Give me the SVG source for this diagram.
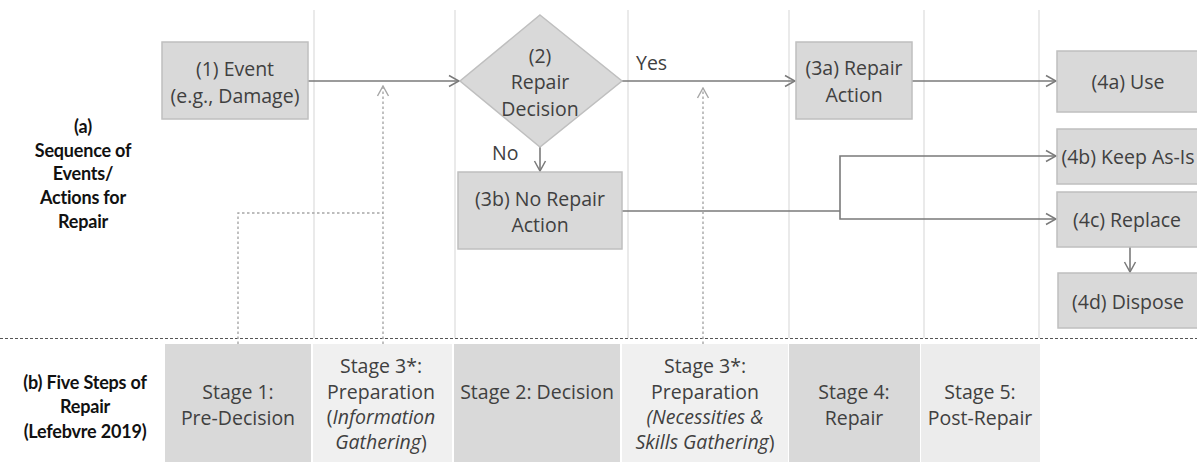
<svg xmlns="http://www.w3.org/2000/svg" width="1197" height="462" viewBox="0 0 1197 462">
<defs>
<style>
.grid{stroke:#e3e3e3;stroke-width:1.5;fill:none}
.box{fill:#d9d9d9;stroke:#bfbfbf;stroke-width:1.5}
.dark{fill:#d9d9d9}
.light{fill:#f0f0f0}
.t{font-family:"Open Sans","Liberation Sans",sans-serif;font-size:19.5px;fill:#404040;text-anchor:middle}
.tl{font-family:"Open Sans","Liberation Sans",sans-serif;font-size:19.5px;fill:#404040}
.lab{font-family:Lato,"Liberation Sans",sans-serif;font-weight:700;font-size:18px;fill:#111;text-anchor:middle;letter-spacing:-0.2px}
.conn{stroke:#7a7a7a;stroke-width:1.6;fill:none}
.dot{stroke:#a6a6a6;stroke-width:1.4;fill:none;stroke-dasharray:2.5 2.5}
.it{font-style:italic}
</style>
<marker id="arr" viewBox="-11 -7 12 14" refX="0" refY="0" markerWidth="12" markerHeight="14" markerUnits="userSpaceOnUse" orient="auto">
<path d="M-10,-5.5 L0,0 L-10,5.5" fill="none" stroke="#7a7a7a" stroke-width="1.5"/>
</marker>
<marker id="arrd" viewBox="-11 -7 12 14" refX="0" refY="0" markerWidth="12" markerHeight="14" markerUnits="userSpaceOnUse" orient="auto">
<path d="M-10,-5.5 L0,0 L-10,5.5" fill="none" stroke="#a6a6a6" stroke-width="1.4"/>
</marker>
</defs>
<rect width="1197" height="462" fill="#fff"/>

<g id="grid">
<line class="grid" x1="314" y1="10" x2="314" y2="338"/>
<line class="grid" x1="455" y1="10" x2="455" y2="338"/>
<line class="grid" x1="628" y1="10" x2="628" y2="338"/>
<line class="grid" x1="789" y1="10" x2="789" y2="338"/>
<line class="grid" x1="924" y1="10" x2="924" y2="338"/>
<line class="grid" x1="1039" y1="10" x2="1039" y2="338"/>
</g>

<g id="stages">
<rect class="dark" x="165" y="344" width="146" height="118"/>
<rect class="light" x="313" y="344" width="139" height="118"/>
<rect class="dark" x="454" y="344" width="166" height="118"/>
<rect class="light" x="622" y="344" width="166" height="118"/>
<rect class="dark" x="789" y="344" width="131" height="118"/>
<rect class="light" x="921" y="344" width="119" height="118" style="fill:#ececec"/>
</g>

<line id="separator" x1="0" y1="338.5" x2="1197" y2="338.5" stroke="#555" stroke-width="1.2" stroke-dasharray="3 2"/>

<g id="label-a">
<text class="lab" x="83" y="133">(a)</text>
<text class="lab" x="83" y="157">Sequence of</text>
<text class="lab" x="83" y="180">Events/</text>
<text class="lab" x="83" y="204">Actions for</text>
<text class="lab" x="83" y="228">Repair</text>
</g>
<g id="label-b">
<text class="lab" x="85" y="389">(b) Five Steps of</text>
<text class="lab" x="85" y="413">Repair</text>
<text class="lab" x="85" y="438">(Lefebvre 2019)</text>
</g>

<g id="connectors">
<line class="conn" x1="308" y1="81" x2="459" y2="81" marker-end="url(#arr)"/>
<line class="conn" x1="622" y1="81" x2="795" y2="81" marker-end="url(#arr)"/>
<line class="conn" x1="912" y1="81" x2="1056" y2="81" marker-end="url(#arr)"/>
<line class="conn" x1="540" y1="147" x2="540" y2="171" marker-end="url(#arr)"/>
<polyline class="conn" points="622,211 840,211"/>
<polyline class="conn" points="840,211 840,156 1056,156" marker-end="url(#arr)"/>
<polyline class="conn" points="840,211 840,219 1056,219" marker-end="url(#arr)"/>
<line class="conn" x1="1130" y1="247" x2="1130" y2="272" marker-end="url(#arr)"/>
<polyline class="dot" points="238,344 238,213 383,213"/>
<line class="dot" x1="383" y1="344" x2="383" y2="86" marker-end="url(#arrd)"/>
<line class="dot" x1="703" y1="344" x2="703" y2="88" marker-end="url(#arrd)"/>
<text class="tl" x="636" y="70">Yes</text>
<text class="tl" x="492" y="160">No</text>
</g>

<g id="n1">
<rect class="box" x="162" y="42" width="146" height="77"/>
<text class="t" x="235" y="76">(1) Event</text>
<text class="t" x="235" y="103">(e.g., Damage)</text>
</g>
<g id="n2">
<polygon class="box" points="540,15 622,81 540,147 460,81"/>
<text class="t" x="540" y="63">(2)</text>
<text class="t" x="540" y="89">Repair</text>
<text class="t" x="540" y="116">Decision</text>
</g>
<g id="n3a">
<rect class="box" x="796" y="42" width="116" height="77"/>
<text class="t" x="854" y="75">(3a) Repair</text>
<text class="t" x="854" y="102">Action</text>
</g>
<g id="n3b">
<rect class="box" x="458" y="172" width="164" height="77"/>
<text class="t" x="540" y="206">(3b) No Repair</text>
<text class="t" x="540" y="232">Action</text>
</g>
<g id="n4a">
<rect class="box" x="1057" y="51" width="142" height="61"/>
<text class="t" x="1128" y="89">(4a) Use</text>
</g>
<g id="n4b">
<rect class="box" x="1057" y="129" width="142" height="55"/>
<text class="t" x="1128" y="164">(4b) Keep As-Is</text>
</g>
<g id="n4c">
<rect class="box" x="1057" y="192" width="142" height="55"/>
<text class="t" x="1127" y="227">(4c) Replace</text>
</g>
<g id="n4d">
<rect class="box" x="1058" y="273" width="141" height="55"/>
<text class="t" x="1128" y="309">(4d) Dispose</text>
</g>

<g id="stage-texts">
<text class="t" x="238" y="399">Stage 1:</text>
<text class="t" x="238" y="425">Pre-Decision</text>
<text class="t" x="381" y="373">Stage 3*:</text>
<text class="t" x="381" y="399">Preparation</text>
<text class="t" x="381" y="424">(<tspan class="it">Information</tspan></text>
<text class="t" x="381" y="449"><tspan class="it">Gathering</tspan>)</text>
<text class="t" x="537" y="399">Stage 2: Decision</text>
<text class="t" x="705" y="373">Stage 3*:</text>
<text class="t" x="705" y="399">Preparation</text>
<text class="t it" x="705" y="424">(Necessities &amp;</text>
<text class="t" x="705" y="449"><tspan class="it">Skills Gathering</tspan>)</text>
<text class="t" x="854" y="399">Stage 4:</text>
<text class="t" x="854" y="425">Repair</text>
<text class="t" x="980" y="399">Stage 5:</text>
<text class="t" x="980" y="425">Post-Repair</text>
</g>
</svg>
